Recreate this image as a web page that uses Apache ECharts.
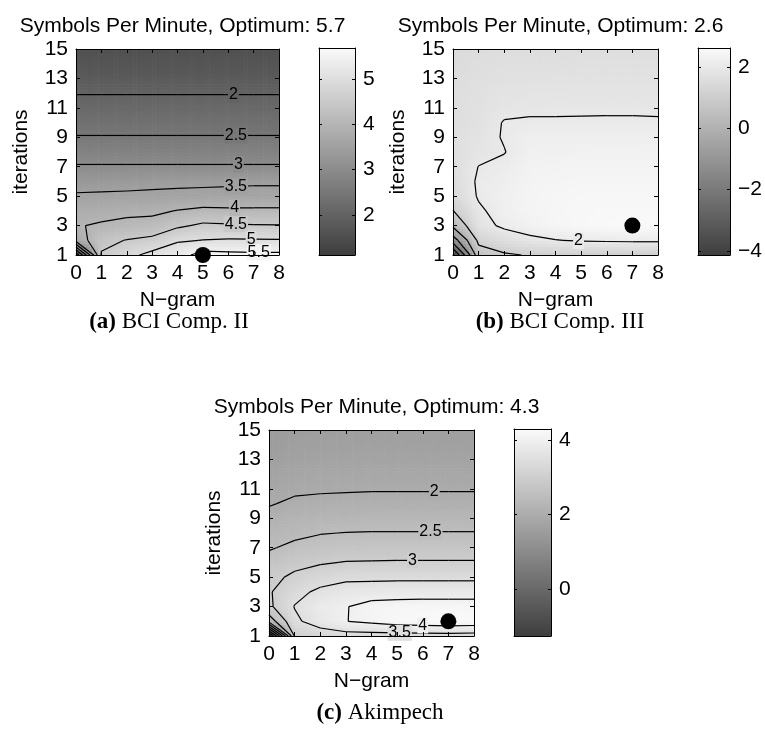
<!DOCTYPE html>
<html>
<head>
<meta charset="utf-8">
<script src="https://cdn.jsdelivr.net/npm/echarts@6/dist/echarts.min.js"></script>
<style>
html, body { margin: 0; padding: 0; background: #fff; }
#chart { width: 765px; height: 731px; }
</style>
</head>
<body>
<div id="chart"></div>
<script>
// axes
var nGram = [0, 1, 2, 3, 4, 5, 6, 7, 8];
var iterations = [1, 2, 3, 4, 5, 6, 7, 8, 9, 10, 11, 12, 13, 14, 15];
var xTickValues = [0, 1, 2, 3, 4, 5, 6, 7, 8];
var yTickValues = [1, 3, 5, 7, 9, 11, 13, 15];

// symbols per minute, one list per N-gram (0..8), each running over iterations 1..15
var spmCompII = [
    [1.12, 3.70, 3.97, 3.82, 3.56, 3.30, 3.04, 2.78, 2.52, 2.36, 2.18, 1.98, 1.82, 1.70, 1.58],
    [4.55, 4.35, 4.05, 3.85, 3.56, 3.35, 3.04, 2.78, 2.52, 2.36, 2.18, 1.98, 1.82, 1.70, 1.58],
    [4.85, 4.52, 4.12, 3.90, 3.57, 3.37, 3.04, 2.78, 2.52, 2.36, 2.18, 1.98, 1.82, 1.70, 1.58],
    [5.15, 4.62, 4.18, 3.90, 3.58, 3.40, 3.04, 2.78, 2.52, 2.36, 2.18, 1.98, 1.82, 1.70, 1.58],
    [5.30, 4.95, 4.42, 4.02, 3.59, 3.42, 3.04, 2.78, 2.52, 2.36, 2.18, 1.98, 1.82, 1.70, 1.58],
    [5.68, 5.01, 4.58, 4.12, 3.60, 3.43, 3.04, 2.78, 2.52, 2.36, 2.18, 1.98, 1.82, 1.70, 1.58],
    [5.62, 5.05, 4.55, 4.10, 3.61, 3.44, 3.04, 2.78, 2.52, 2.36, 2.18, 1.98, 1.82, 1.70, 1.58],
    [5.60, 5.04, 4.53, 4.10, 3.62, 3.45, 3.04, 2.78, 2.52, 2.36, 2.18, 1.98, 1.82, 1.70, 1.58],
    [5.60, 5.03, 4.52, 4.10, 3.62, 3.45, 3.04, 2.78, 2.52, 2.36, 2.18, 1.98, 1.82, 1.70, 1.58]
];
var spmCompIII = [
    [-4.13, -1.50, 0.20, 0.98, 1.40, 1.55, 1.60, 1.62, 1.63, 1.63, 1.62, 1.60, 1.57, 1.54, 1.50],
    [0.60, 1.20, 1.75, 1.90, 2.06, 2.08, 2.01, 1.85, 1.80, 1.75, 1.72, 1.70, 1.66, 1.62, 1.57],
    [0.90, 1.60, 2.12, 2.25, 2.25, 2.20, 2.12, 1.98, 2.04, 2.03, 1.88, 1.80, 1.72, 1.66, 1.60],
    [1.05, 1.85, 2.30, 2.40, 2.40, 2.38, 2.33, 2.28, 2.20, 2.06, 1.91, 1.82, 1.74, 1.67, 1.60],
    [1.08, 1.98, 2.45, 2.48, 2.46, 2.42, 2.37, 2.30, 2.20, 2.06, 1.91, 1.83, 1.75, 1.68, 1.61],
    [1.10, 2.05, 2.52, 2.52, 2.50, 2.45, 2.38, 2.31, 2.21, 2.07, 1.91, 1.84, 1.76, 1.69, 1.62],
    [1.10, 2.08, 2.57, 2.54, 2.50, 2.45, 2.39, 2.31, 2.21, 2.07, 1.92, 1.84, 1.76, 1.69, 1.62],
    [1.10, 2.10, 2.62, 2.55, 2.50, 2.45, 2.39, 2.31, 2.21, 2.07, 1.92, 1.84, 1.76, 1.69, 1.62],
    [1.10, 2.10, 2.58, 2.54, 2.50, 2.45, 2.39, 2.31, 2.21, 2.06, 1.91, 1.84, 1.76, 1.69, 1.62]
];
var spmAkimpech = [
    [-1.26, 2.20, 2.90, 2.95, 2.85, 2.70, 2.45, 2.30, 2.12, 1.97, 1.83, 1.72, 1.62, 1.56, 1.52],
    [3.05, 3.40, 3.52, 3.35, 3.10, 2.85, 2.62, 2.38, 2.22, 2.07, 1.93, 1.80, 1.71, 1.63, 1.56],
    [3.20, 3.75, 3.85, 3.60, 3.28, 2.95, 2.68, 2.48, 2.27, 2.10, 1.95, 1.83, 1.74, 1.66, 1.58],
    [3.30, 3.99, 3.98, 3.75, 3.38, 3.02, 2.74, 2.51, 2.29, 2.12, 1.96, 1.84, 1.75, 1.67, 1.59],
    [3.30, 4.10, 4.15, 3.78, 3.39, 3.03, 2.75, 2.52, 2.30, 2.13, 1.97, 1.85, 1.76, 1.68, 1.60],
    [3.30, 4.22, 4.18, 3.80, 3.40, 3.04, 2.75, 2.52, 2.30, 2.13, 1.97, 1.85, 1.76, 1.68, 1.60],
    [3.32, 4.27, 4.20, 3.80, 3.40, 3.04, 2.75, 2.52, 2.30, 2.13, 1.97, 1.85, 1.76, 1.68, 1.60],
    [3.32, 4.30, 4.20, 3.80, 3.40, 3.04, 2.75, 2.52, 2.30, 2.13, 1.97, 1.85, 1.76, 1.68, 1.60],
    [3.30, 4.28, 4.20, 3.80, 3.40, 3.04, 2.75, 2.52, 2.30, 2.13, 1.97, 1.85, 1.76, 1.68, 1.60]
];

// contour levels
var levelsCompII = [1.5, 2, 2.5, 3, 3.5, 4, 4.5, 5, 5.5];
var levelsCompIII = [-4, -3, -2, -1, 0, 1, 2];
var levelsAkimpech = [-1, -0.5, 0, 0.5, 1, 1.5, 2, 2.5, 3, 3.5, 4];

// colorbar tick labels
var barTicksCompII = [2, 3, 4, 5];
var barTicksCompIII = [-4, -2, 0, 2];
var barTicksAkimpech = [0, 2, 4];

// optimum marker [N-gram, iterations]
var optimumCompII = [5, 1];
var optimumCompIII = [7, 3];
var optimumAkimpech = [7, 2];

// contour labels: [level, near N-gram, near iterations], snapped onto the line
var labelsCompII = [[2, 6.2, 12], [2.5, 6.3, 9], [3, 6.4, 7.2], [3.5, 6.3, 5.7], [4, 6.25, 4.2], [4.5, 6.3, 3], [5, 6.9, 2.05], [5.5, 7.2, 1.2]];
var labelsCompIII = [[2, 4.9, 2]];
var labelsAkimpech = [[2, 6.45, 10.8], [2.5, 6.3, 8.1], [3, 5.6, 6.2], [4, 6.0, 1.7], [3.5, 5.1, 1.2]];

var chart = echarts.init(document.getElementById('chart'));
var FONT = 'Liberation Sans';

function minus(v) { return String(v).replace('-', '\u2212'); }

function grayOf(v, lo, hi) {
    var t = (v - lo) / (hi - lo);
    t = Math.max(0, Math.min(1, t));
    var g = Math.round(62 + t * (250 - 62));
    return 'rgb(' + g + ',' + g + ',' + g + ')';
}

function valueAt(vals, x, y) {
    var i = Math.min(Math.max(Math.floor(x - nGram[0]), 0), nGram.length - 2);
    var j = Math.min(Math.max(Math.floor(y - iterations[0]), 0), iterations.length - 2);
    var s = x - nGram[i], t = y - iterations[j];
    return vals[i][j] * (1 - s) * (1 - t) + vals[i + 1][j] * s * (1 - t) +
        vals[i][j + 1] * (1 - s) * t + vals[i + 1][j + 1] * s * t;
}

// marching squares over the grid
function contourSegments(g, levels) {
    var segs = [];
    levels.forEach(function (L) {
        for (var i = 0; i < nGram.length - 1; i++) {
            for (var j = 0; j < iterations.length - 1; j++) {
                var x0 = nGram[i], x1 = nGram[i + 1], y0 = iterations[j], y1 = iterations[j + 1];
                var a = g[i][j], b = g[i + 1][j], c = g[i + 1][j + 1], d = g[i][j + 1];
                var cut = function (u, w) { return (u < L) !== (w < L); };
                var e = [];
                if (cut(a, b)) e.push([x0 + (L - a) / (b - a) * (x1 - x0), y0]);
                if (cut(b, c)) e.push([x1, y0 + (L - b) / (c - b) * (y1 - y0)]);
                if (cut(d, c)) e.push([x0 + (L - d) / (c - d) * (x1 - x0), y1]);
                if (cut(a, d)) e.push([x0, y0 + (L - a) / (d - a) * (y1 - y0)]);
                if (e.length === 2) {
                    segs.push([e[0], e[1], L]);
                } else if (e.length === 4) {
                    var mid = (a + b + c + d) / 4;
                    if ((a >= L) === (mid >= L)) {
                        segs.push([e[0], e[1], L]);
                        segs.push([e[2], e[3], L]);
                    } else {
                        segs.push([e[0], e[3], L]);
                        segs.push([e[1], e[2], L]);
                    }
                }
            }
        }
    });
    return segs;
}

function snapLabels(segs, spots) {
    var k = 0.58; // iterations are drawn tighter than N-gram
    return spots.map(function (s) {
        var best = null, bd = Infinity;
        segs.forEach(function (g) {
            if (g[2] !== s[0]) return;
            var ax = g[0][0], ay = g[0][1] * k, bx = g[1][0], by = g[1][1] * k;
            var px = s[1], py = s[2] * k;
            var dx = bx - ax, dy = by - ay, len = dx * dx + dy * dy;
            var t = len ? Math.max(0, Math.min(1, ((px - ax) * dx + (py - ay) * dy) / len)) : 0;
            var cx = ax + t * dx, cy = ay + t * dy;
            var dd = (cx - px) * (cx - px) + (cy - py) * (cy - py);
            if (dd < bd) { bd = dd; best = [cx, cy / k]; }
        });
        return best ? [best[0], best[1], s[0]] : [s[1], s[2], s[0]];
    });
}

var panels = [
    {
        values: spmCompII, levels: levelsCompII, barTicks: barTicksCompII, optimum: optimumCompII, labels: labelsCompII,
        plot: { left: 76, top: 49, width: 203, height: 206 },
        bar: { left: 319, top: 48, width: 36, height: 207 },
        title: 'Symbols Per Minute, Optimum: 5.7',
        caption: '{b|(a)} BCI Comp. II', captionAt: [169, 322]
    },
    {
        values: spmCompIII, levels: levelsCompIII, barTicks: barTicksCompIII, optimum: optimumCompIII, labels: labelsCompIII,
        plot: { left: 453, top: 49, width: 205, height: 206 },
        bar: { left: 698, top: 48, width: 36, height: 207 },
        title: 'Symbols Per Minute, Optimum: 2.6',
        caption: '{b|(b)} BCI Comp. III', captionAt: [560, 322]
    },
    {
        values: spmAkimpech, levels: levelsAkimpech, barTicks: barTicksAkimpech, optimum: optimumAkimpech, labels: labelsAkimpech,
        plot: { left: 269, top: 430, width: 205, height: 206 },
        bar: { left: 514, top: 429, width: 37, height: 207 },
        title: 'Symbols Per Minute, Optimum: 4.3',
        caption: '{b|(c)} Akimpech', captionAt: [380, 713]
    }
];

var grids = [], xAxes = [], yAxes = [], series = [], titles = [], graphics = [];
var tickFont = { color: '#000', fontSize: 21, fontFamily: FONT };

function boxAxis(pos, gridIndex, min, max, opts) {
    var ax = {
        type: 'value', gridIndex: gridIndex, position: pos, min: min, max: max, z: 10,
        axisLine: { show: true, onZero: false, lineStyle: { color: '#000', width: 1 } },
        axisTick: { show: !!opts.ticks, inside: true, length: opts.tickLen || 4, customValues: opts.ticks, lineStyle: { color: '#000' } },
        axisLabel: opts.labels ? Object.assign({ show: true, customValues: opts.ticks, margin: 8, formatter: minus }, tickFont) : { show: false },
        splitLine: { show: false }
    };
    if (opts.name) {
        ax.name = opts.name;
        ax.nameLocation = 'middle';
        ax.nameGap = opts.nameGap;
        ax.nameTextStyle = { color: '#000', fontSize: 21, fontFamily: FONT };
    }
    return ax;
}

panels.forEach(function (p) {
    var all = [].concat.apply([], p.values);
    var lo = Math.min.apply(null, all), hi = Math.max.apply(null, all);
    var gp = grids.length;
    grids.push(p.plot);
    grids.push(p.bar);
    var gb = gp + 1;

    var xi = xAxes.length, yi = yAxes.length;
    xAxes.push(boxAxis('bottom', gp, 0, 8, { ticks: xTickValues, labels: true, name: 'N\u2212gram', nameGap: 35 }));
    xAxes.push(boxAxis('top', gp, 0, 8, { ticks: xTickValues }));
    yAxes.push(boxAxis('left', gp, 1, 15, { ticks: yTickValues, labels: true, name: 'iterations', nameGap: 44 }));
    yAxes.push(boxAxis('right', gp, 1, 15, { ticks: yTickValues }));

    var xb = xAxes.length, yb = yAxes.length;
    xAxes.push(boxAxis('bottom', gb, 0, 1, {}));
    xAxes.push(boxAxis('top', gb, 0, 1, {}));
    yAxes.push(boxAxis('left', gb, lo, hi, { ticks: p.barTicks, tickLen: 3 }));
    yAxes.push(boxAxis('right', gb, lo, hi, { ticks: p.barTicks, tickLen: 3, labels: true }));

    // shaded surface, one item per grid cell
    var cells = [];
    for (var i = 0; i < nGram.length - 1; i++) {
        for (var j = 0; j < iterations.length - 1; j++) cells.push([nGram[i], iterations[j]]);
    }
    series.push({
        type: 'custom', xAxisIndex: xi, yAxisIndex: yi, z: 1, silent: true, data: cells,
        renderItem: function (params, api) {
            var x0 = api.value(0), y0 = api.value(1);
            var p0 = api.coord([x0, y0]), p1 = api.coord([x0 + 1, y0 + 1]);
            var NX = 8, NY = 5, w = (p1[0] - p0[0]) / NX, h = (p0[1] - p1[1]) / NY;
            var kids = [];
            for (var a = 0; a < NX; a++) {
                for (var b = 0; b < NY; b++) {
                    var v = valueAt(p.values, x0 + (a + 0.5) / NX, y0 + (b + 0.5) / NY);
                    kids.push({
                        type: 'rect',
                        shape: { x: p0[0] + a * w, y: p0[1] - (b + 1) * h, width: w + 0.6, height: h + 0.6 },
                        style: { fill: grayOf(v, lo, hi) }
                    });
                }
            }
            return { type: 'group', children: kids };
        }
    });

    // contour lines
    var segs = contourSegments(p.values, p.levels);
    series.push({
        type: 'custom', xAxisIndex: xi, yAxisIndex: yi, z: 2, silent: true,
        data: segs.map(function (s) { return [s[0][0], s[0][1], s[1][0], s[1][1]]; }),
        renderItem: function (params, api) {
            var a = api.coord([api.value(0), api.value(1)]), b = api.coord([api.value(2), api.value(3)]);
            return { type: 'line', shape: { x1: a[0], y1: a[1], x2: b[0], y2: b[1] }, style: { stroke: '#000', lineWidth: 1.2 } };
        }
    });

    // contour labels
    series.push({
        type: 'custom', xAxisIndex: xi, yAxisIndex: yi, z: 3, silent: true,
        data: snapLabels(segs, p.labels),
        renderItem: function (params, api) {
            var x = api.value(0), y = api.value(1), L = api.value(2);
            var c = api.coord([x, y]);
            return {
                type: 'text', x: c[0], y: c[1],
                style: {
                    text: minus(L), fill: '#000', fontSize: 16, fontFamily: FONT,
                    align: 'center', verticalAlign: 'middle',
                    backgroundColor: grayOf(valueAt(p.values, x, y), lo, hi), padding: [0, 1]
                }
            };
        }
    });

    // optimum
    series.push({
        type: 'scatter', xAxisIndex: xi, yAxisIndex: yi, z: 20, clip: false, silent: true,
        symbolSize: 16, itemStyle: { color: '#000', opacity: 1 }, data: [p.optimum]
    });

    // colorbar
    series.push({
        type: 'custom', xAxisIndex: xb, yAxisIndex: yb, z: 1, silent: true, data: [[0, lo]],
        renderItem: function (params, api) {
            var a = api.coord([0, lo]), b = api.coord([1, hi]);
            return {
                type: 'rect',
                shape: { x: a[0], y: b[1], width: b[0] - a[0], height: a[1] - b[1] },
                style: {
                    fill: new echarts.graphic.LinearGradient(0, 1, 0, 0, [
                        { offset: 0, color: grayOf(lo, lo, hi) },
                        { offset: 1, color: grayOf(hi, lo, hi) }
                    ])
                }
            };
        }
    });

    titles.push({
        text: p.title, left: p.plot.left + p.plot.width / 2, top: p.plot.top - 38, textAlign: 'center',
        textStyle: { color: '#000', fontSize: 21, fontWeight: 'normal', fontFamily: FONT }
    });

    graphics.push({
        type: 'text', x: p.captionAt[0], y: p.captionAt[1],
        style: {
            text: p.caption, fill: '#000', fontSize: 23, fontFamily: 'Liberation Serif',
            align: 'center', verticalAlign: 'middle',
            rich: { b: { fontWeight: 'bold', fontSize: 23, fontFamily: 'Liberation Serif', fill: '#000' } }
        }
    });
});

chart.setOption({
    animation: false,
    backgroundColor: '#fff',
    textStyle: { fontFamily: FONT },
    title: titles,
    grid: grids,
    xAxis: xAxes,
    yAxis: yAxes,
    series: series,
    graphic: graphics
});
</script>
</body>
</html>
